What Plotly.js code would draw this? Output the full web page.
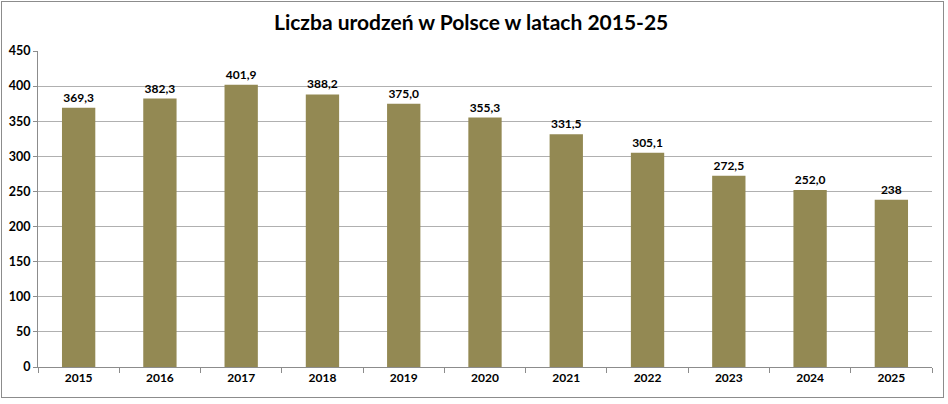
<!DOCTYPE html>
<html>
<head>
<meta charset="utf-8">
<script src="https://cdn.plot.ly/plotly-3.0.1.min.js"></script>
<style>
  html, body { margin: 0; padding: 0; background: #fff; }
  #frame { position: absolute; left: 1px; top: 1px; width: 941px; height: 395px; border: 1px solid #8c8c8c; }
  #chart { position: absolute; left: 0; top: 0; width: 948px; height: 404px; }
</style>
</head>
<body>
<div id="frame"></div>
<div id="chart"></div>
<script>
// ─── Dane ─────────────────────────────────────────────
var years = ['2015', '2016', '2017', '2018', '2019', '2020', '2021', '2022', '2023', '2024', '2025'];
var births = [369.3, 382.3, 401.9, 388.2, 375.0, 355.3, 331.5, 305.1, 272.5, 252.0, 238];
var labels = ['369,3', '382,3', '401,9', '388,2', '375,0', '355,3', '331,5', '305,1', '272,5', '252,0', '238'];

var font = 'Lato, "Open Sans", sans-serif';

var trace = {
  type: 'bar',
  x: years,
  y: births,
  text: labels,
  textposition: 'outside',
  cliponaxis: false,
  textfont: { family: font, size: 12, color: '#000', weight: 'bold' },
  marker: { color: '#938953', line: { width: 0 } },
  hoverinfo: 'x+y'
};

var layout = {
  width: 948,
  height: 404,
  margin: { l: 38, r: 16, t: 51, b: 37 },
  paper_bgcolor: 'rgba(0,0,0,0)',
  plot_bgcolor: 'rgba(0,0,0,0)',
  bargap: 0.59,
  showlegend: false,
  title: {
    text: 'Liczba urodzeń w Polsce w latach 2015-25',
    x: 0.497, xanchor: 'center', y: 0.945, yanchor: 'middle',
    font: { family: font, size: 21, color: '#000', weight: 'bold' }
  },
  xaxis: {
    type: 'category',
    showline: true, linecolor: '#8c8c8c', linewidth: 1,
    ticks: 'outside', tickson: 'boundaries', ticklen: 5, tickcolor: '#8c8c8c',
    showgrid: false,
    tickfont: { family: font, size: 12, color: '#000', weight: 'bold' }
  },
  yaxis: {
    range: [0, 450], dtick: 50,
    showline: true, linecolor: '#8c8c8c', linewidth: 1,
    ticks: 'outside', ticklen: 4, tickcolor: '#8c8c8c',
    gridcolor: '#b0b0b0', gridwidth: 1,
    zeroline: false,
    tickfont: { family: font, size: 12.5, color: '#000', weight: 'bold' }
  }
};

Plotly.newPlot('chart', [trace], layout, { displayModeBar: false, staticPlot: true });
</script>
</body>
</html>
